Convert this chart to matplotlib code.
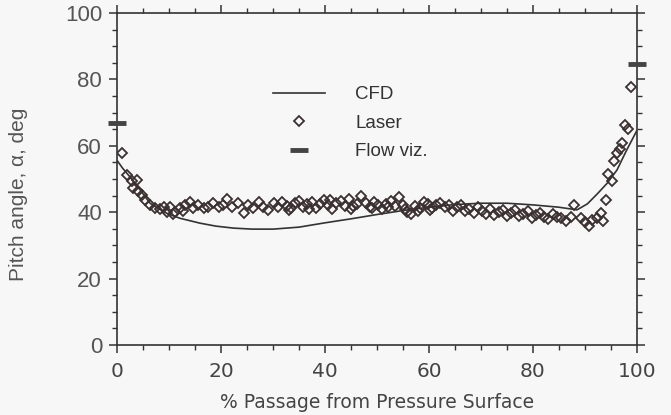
# Pitch angle across the passage: CFD vs. laser vs. flow visualisation
import numpy as np
import matplotlib.pyplot as plt
from matplotlib.lines import Line2D

plt.rcParams.update({
    "font.family": ["Liberation Sans", "DejaVu Sans"],
    "axes.linewidth": 1.2,
})

# CFD curve
cfd_x = [0, 1, 2.4, 4.4, 6.3, 8, 9.5, 12, 15.9, 19, 22.4, 26, 30, 35, 40, 45, 50,
         55, 60, 65, 70, 75, 80, 85, 88.5, 90.5, 92.4, 94.3, 96.2, 98, 100]
cfd_y = [55.5, 53.3, 50.7, 46.7, 42.7, 41.0, 39.7, 38.2, 36.7, 35.8, 35.2, 34.9, 34.9,
         35.5, 36.8, 38.0, 39.3, 40.5, 41.5, 42.3, 42.7, 42.7, 42.2, 41.5, 40.7, 42.5,
         45.5, 48.7, 52.7, 58.5, 64.5]

# Laser measurements
laser_x = [1.0, 1.9, 2.8, 3.7, 3.1, 4.0, 4.7, 5.3, 6.3, 7.3, 8.2, 9.0, 9.5, 10.2, 10.8,
           11.1, 12.1, 12.6, 13.0, 14.0, 14.6, 15.6, 16.6, 17.5, 18.5, 19.5, 20.4, 21.2,
           22.0, 23.3, 24.3, 25.2, 26.2, 27.2, 28.1, 29.1, 30.1,
           31.0, 31.8, 32.6, 33.0, 33.4, 34.2, 35.0, 35.8, 36.6, 37.0, 37.4, 38.2, 39.0,
           39.8, 40.6, 41.0, 41.4, 42.2, 43.0, 43.8, 44.6, 45.0, 45.4, 46.2, 47.0, 47.8,
           48.6, 49.0, 49.4, 50.2, 51.0, 51.8, 52.2, 52.6, 53.4, 54.2, 55.0, 55.4, 55.8,
           56.6, 57.4, 57.8, 58.2, 59.0, 59.8, 60.2, 60.6, 61.4,
           62.2, 63.0, 63.8, 64.6, 65.4, 66.2, 67.0, 67.8, 68.6, 69.4, 70.2, 71.0, 71.8,
           72.6, 73.4, 74.2, 75.0, 75.8, 76.6, 77.4, 78.2, 79.0, 79.8, 80.6, 81.4, 82.2,
           83.0, 83.8, 84.6, 85.4, 86.3, 87.3,
           88.0, 89.2, 90.1, 90.8, 91.4, 92.4, 93.1, 93.6, 94.0, 94.5, 95.3, 95.7, 96.3,
           96.7, 97.2, 97.7, 98.4, 98.9]
laser_y = [57.7, 51.2, 49.4, 49.7, 47.4, 46.3, 45.3, 43.7, 42.2, 41.2, 40.9, 41.5, 40.2,
           41.7, 39.5, 40.2, 41.2, 40.5, 42.2, 43.2, 41.2, 42.2, 41.2, 41.7, 42.7, 41.7,
           42.2, 43.9, 41.7, 42.7, 39.7, 42.2, 41.2, 43.2, 41.7, 40.7, 42.7,
           41.5, 43.2, 42.0, 40.8, 41.2, 42.8, 43.5, 41.6, 42.4, 41.0, 43.0, 41.4, 42.6,
           43.8, 42.2, 43.6, 41.0, 42.9, 43.4, 42.0, 43.9, 41.0, 41.8, 42.5, 44.8, 42.8,
           41.5, 41.2, 43.2, 42.1, 40.9, 42.6, 41.5, 43.3, 41.8, 44.6, 42.2, 41.0, 40.2,
           39.6, 42.0, 40.5, 41.2, 43.0, 42.4, 40.6, 41.3, 42.1,
           42.7, 41.6, 42.2, 40.5, 41.6, 42.3, 40.4, 41.0, 39.8, 41.5, 40.5, 39.6, 41.0,
           39.3, 40.2, 40.8, 39.0, 39.9, 40.6, 38.8, 39.4, 40.3, 38.2, 39.2, 39.8, 38.5,
           37.9, 39.5, 38.6, 38.2, 37.3, 38.5,
           42.2, 38.2, 37.1, 35.8, 37.7, 38.2, 39.7, 37.4, 43.7, 51.5, 49.4, 55.4, 57.7,
           59.0, 60.7, 66.3, 65.0, 77.6]

# Flow visualisation at the walls
flow_x = [0, 100]
flow_y = [67, 84.5]

fig = plt.figure(figsize=(6.71, 4.15), dpi=100, facecolor='#f7f7f7')
ax = fig.add_axes([0.1748, 0.1687, 0.7741, 0.8])
ax.set_facecolor('#f7f7f7')

ax.plot(cfd_x, cfd_y, color='#333333', lw=1.2)
ax.plot(laser_x, laser_y, ls='none', marker='D', ms=4.6, mfc='none',
        mec='#3b3030', mew=1.3)
ax.plot(flow_x, flow_y, ls='none', marker='_', ms=13, mew=3.5, color='#444444',
        clip_on=False, zorder=5)

ax.set_xlim(0, 100)
ax.set_ylim(0, 100)
ax.set_xticks(np.arange(0, 101, 20))
ax.set_yticks(np.arange(0, 101, 20))
ax.set_xticks(np.arange(0, 101, 5), minor=True)
ax.set_yticks(np.arange(0, 101, 5), minor=True)
for s in ax.spines.values():
    s.set_color('#333333')

ax.tick_params(which='major', direction='out', length=6, width=1.1, color='#333333',
               top=True, right=True)
ax.tick_params(which='minor', direction='out', length=3.5, width=1.0, color='#333333',
               top=True, right=True)
ax.tick_params(axis='y', labelsize=16, labelcolor='#555555', pad=5)
ax.tick_params(axis='x', labelsize=14.5, labelcolor='#444444', pad=6)
for lab in ax.get_xticklabels():
    lab.set_family('DejaVu Sans')

ax.set_xlabel('% Passage from Pressure Surface', fontsize=13.5, color='#444444',
              family='DejaVu Sans')
ax.xaxis.set_label_coords(0.5, -0.145)
ax.set_ylabel('Pitch angle, α, deg', fontsize=15, color='#555555')
ax.yaxis.set_label_coords(-0.172, 0.455)

handles = [Line2D([], [], color='#333333', lw=1.2),
           Line2D([], [], ls='none', marker='D', ms=4.6, mfc='none', mec='#3b3030', mew=1.3),
           Line2D([], [], ls='none', marker='_', ms=13, mew=3.5, color='#444444')]
ax.legend(handles, ['CFD', 'Laser', 'Flow viz.'], loc='upper left',
          bbox_to_anchor=(0.30, 0.779), frameon=False, fontsize=13.5,
          handlelength=2.77, handletextpad=1.6, labelspacing=0.6, borderpad=0,
          borderaxespad=0, labelcolor='#333333')

plt.savefig('out.png', dpi=100, facecolor=fig.get_facecolor())
